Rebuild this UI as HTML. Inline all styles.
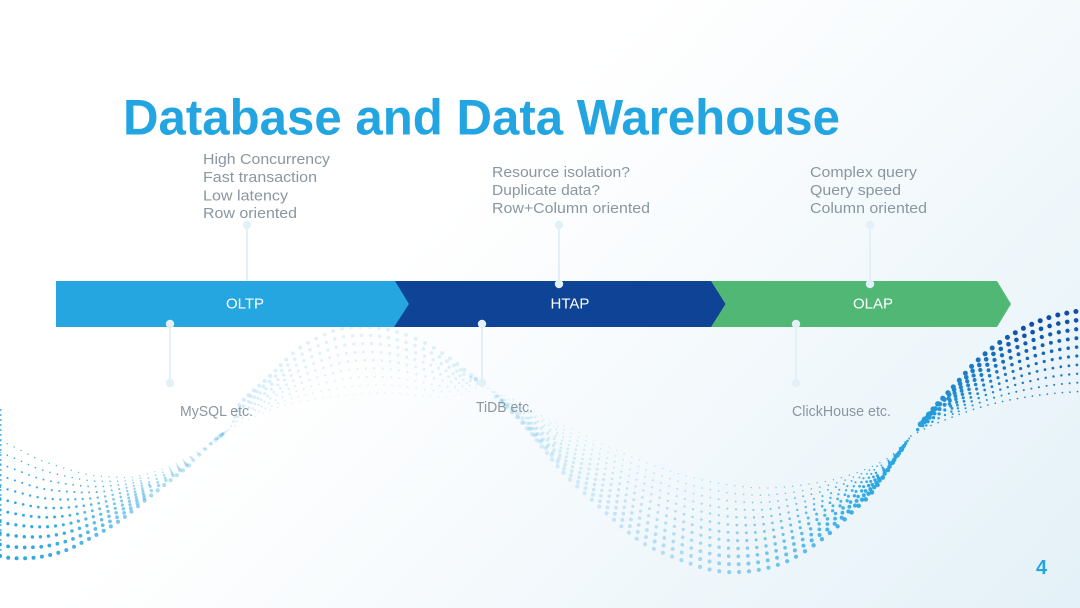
<!DOCTYPE html>
<html><head><meta charset="utf-8"><style>
html,body{margin:0;padding:0;width:1080px;height:608px;overflow:hidden;background:#fff}
svg{display:block;position:absolute;left:0;top:0}
text{font-family:"Liberation Sans",sans-serif}
.t{font-size:15px;fill:#8a96a1}
.b{font-size:15px;fill:#fff;text-anchor:middle}
</style></head><body>
<svg id="s" width="1080" height="608" viewBox="0 0 1080 608" xmlns="http://www.w3.org/2000/svg">
<defs><linearGradient id="bg" gradientUnits="userSpaceOnUse" x1="480" y1="170" x2="1000" y2="680"><stop offset="0" stop-color="#fff"/><stop offset="1" stop-color="#e4f1f8"/></linearGradient></defs>
<rect width="1080" height="608" fill="url(#bg)"/>
<g id="dots"></g>
<g stroke="#e3f0f8" stroke-width="2" fill="#e3f0f8">
<line x1="247" y1="225" x2="247" y2="283"/><circle cx="247" cy="225" r="4.2" stroke="none"/>
<line x1="559" y1="225" x2="559" y2="283"/><circle cx="559" cy="225" r="4.2" stroke="none"/>
<line x1="870" y1="225" x2="870" y2="283"/><circle cx="870" cy="225" r="4.2" stroke="none"/>
<line x1="170" y1="325" x2="170" y2="383"/><circle cx="170" cy="383" r="4.2" stroke="none"/>
<line x1="482" y1="325" x2="482" y2="383"/><circle cx="482" cy="383" r="4.2" stroke="none"/>
<line x1="796" y1="325" x2="796" y2="383"/><circle cx="796" cy="383" r="4.2" stroke="none"/>
</g>
<polygon points="700,281 997,281 1011,304 997,327 700,327" fill="#50b874"/>
<polygon points="380,281 711,281 725.500,304 711,327 380,327" fill="#0f4396"/>
<polygon points="56,281 395,281 409,304 394,327 56,327" fill="#25a6e1"/>
<g fill="#e3f0f8"><circle cx="559" cy="284" r="4.2"/><circle cx="870" cy="284" r="4.2"/><circle cx="170" cy="324" r="4.2"/><circle cx="482" cy="324" r="4.2"/><circle cx="796" cy="324" r="4.2"/></g>
<text x="123" y="134.500" font-size="50" font-weight="700" fill="#23a5e2" textLength="717" lengthAdjust="spacingAndGlyphs">Database and Data Warehouse</text>
<text class="t" x="203" y="164" textLength="127" lengthAdjust="spacingAndGlyphs">High Concurrency</text>
<text class="t" x="203" y="182" textLength="114" lengthAdjust="spacingAndGlyphs">Fast transaction</text>
<text class="t" x="203" y="200.500" textLength="85" lengthAdjust="spacingAndGlyphs">Low latency</text>
<text class="t" x="203" y="218" textLength="94" lengthAdjust="spacingAndGlyphs">Row oriented</text>
<text class="t" x="492" y="177" textLength="138" lengthAdjust="spacingAndGlyphs">Resource isolation?</text>
<text class="t" x="492" y="195" textLength="108" lengthAdjust="spacingAndGlyphs">Duplicate data?</text>
<text class="t" x="492" y="213" textLength="158" lengthAdjust="spacingAndGlyphs">Row+Column oriented</text>
<text class="t" x="810" y="177" textLength="107" lengthAdjust="spacingAndGlyphs">Complex query</text>
<text class="t" x="810" y="195" textLength="91" lengthAdjust="spacingAndGlyphs">Query speed</text>
<text class="t" x="810" y="213" textLength="117" lengthAdjust="spacingAndGlyphs">Column oriented</text>
<text class="t" x="180" y="416" textLength="73" lengthAdjust="spacingAndGlyphs">MySQL etc.</text>
<text class="t" x="476" y="412" textLength="57" lengthAdjust="spacingAndGlyphs">TiDB etc.</text>
<text class="t" x="792" y="416" textLength="99" lengthAdjust="spacingAndGlyphs">ClickHouse etc.</text>
<text class="b" x="245" y="308.500">OLTP</text>
<text class="b" x="570" y="308.500">HTAP</text>
<text class="b" x="873" y="308.500">OLAP</text>
<text x="1036" y="574" font-size="20" font-weight="700" fill="#23a5e2">4</text>
</svg>
<script>
(function(){
function curve(p){
  var d=[];
  for(var i=0;i<p.length-1;i++){
    var a=p[Math.max(i-1,0)],b=p[i],c=p[i+1],e=p[Math.min(i+2,p.length-1)];
    for(var k=0;k<12;k++){var t=k/12,t2=t*t,t3=t2*t;
      d.push([.5*(2*b[0]+(c[0]-a[0])*t+(2*a[0]-5*b[0]+4*c[0]-e[0])*t2+(3*b[0]-a[0]-3*c[0]+e[0])*t3),
              .5*(2*b[1]+(c[1]-a[1])*t+(2*a[1]-5*b[1]+4*c[1]-e[1])*t2+(3*b[1]-a[1]-3*c[1]+e[1])*t3)]);}
  }
  d.push(p[p.length-1]);
  var L=[0];for(i=1;i<d.length;i++)L[i]=L[i-1]+Math.hypot(d[i][0]-d[i-1][0],d[i][1]-d[i-1][1]);
  var T=L[L.length-1];
  return function(s){s=Math.max(0,Math.min(1,s));var q=T*s,j=0;while(j<d.length-2&&L[j+1]<q)j++;
    var f=(q-L[j])/((L[j+1]-L[j])||1);return [d[j][0]+(d[j+1][0]-d[j][0])*f,d[j][1]+(d[j+1][1]-d[j][1])*f];};
}
function alpha(x){var k=[[0,1],[60,.92],[100,.75],[130,.55],[180,.3],[220,.2],[345,.14],[480,.14],[600,.2],[700,.38],[800,.72],[880,1],[1080,1]];
  for(var i=0;i<k.length-1;i++)if(x<=k[i+1][0]){var f=Math.max(0,(x-k[i][0])/(k[i+1][0]-k[i][0]));return k[i][1]+(k[i+1][1]-k[i][1])*f;}return 1;}
function col(x,u){var t=Math.max(0,Math.min(1,(x-915)/110))*(.35+.65*u);
  var a=[43,166,226],b=[14,78,166];
  return 'rgb('+a.map(function(v,i){return Math.round(v+(b[i]-v)*t)}).join(',')+')';}
var out=[];
function lobe(A,B,n,rows,ra,rb,ws,we,d){
  var fa=curve(A),fb=curve(B);
  for(var i=0;i<=n;i++){
    for(var r=0;r<rows;r++){
      var s0=i/n,p=0;
      if(ws>0&&s0<ws)p=Math.max(p,1-s0/ws);
      if(we>0&&s0>1-we)p=Math.max(p,(s0-(1-we))/we);
      /* stagger rows progressively toward the pinch so columns do not form streaks */
      var ph=((r*.618)%1)*p/n*1.6;
      var s=Math.min(1,s0+ph),D=0;
      if(ws>0&&s<ws)D+=d*Math.pow(1-s/ws,2);
      if(we>0&&s>1-we)D-=d*Math.pow((s-(1-we))/we,2);
      var a=fa(s),b=fb(s+D);
      var u=r/(rows-1),x=a[0]+(b[0]-a[0])*u,y=a[1]+(b[1]-a[1])*u;
      if(x<-3||x>1083)continue;
      /* thin out rows where the band is squeezed */
      var th=Math.hypot(b[0]-a[0],b[1]-a[1]);
      if(th<22&&r%2==1&&r<rows-1)continue;
      if(th<10&&r%4==2)continue;
      var R=(ra+(rb-ra)*u)*(1+.18*p*u);
      out.push('<circle cx="'+x.toFixed(1)+'" cy="'+y.toFixed(1)+'" r="'+R.toFixed(2)+'" fill="'+col(x,u)+'" fill-opacity="'+alpha(x).toFixed(2)+'"/>');
    }
  }
}
lobe([[0,441],[10,445],[20,450],[40,460],[67,469],[90,475],[113,477],[133,477],[157,471],[177,463],[200,450],[228,430]],
     [[0,556],[10,558],[30,558],[50,555],[69,549],[87,540],[105,530],[122,519],[137,507],[153,494],[177,475],[193,462],[213,442],[228,430]],32,11,.65,2,0,.42,.04);
lobe([[228,430],[241,423],[276,408],[310,400],[350,395],[390,393],[448,397],[483,385]],
     [[228,430],[241,403],[269,377],[297,350],[324,335],[345,328],[379,328],[414,338],[445,355],[483,385]],34,9,.7,1.9,.3,.3,.03);
lobe([[483,385],[510,398],[540,415],[574,430],[609,447],[661,468],[712,482],[764,488],[816,483],[850,475],[885,460],[905,442],[911,436]],
     [[483,385],[520,420],[561,470],[590,498],[612,518],[643,543],[681,560],[712,570],[740,572],[771,567],[799,555],[831,532],[854,510],[868,497],[881,480],[899,453],[911,436]],56,12,.65,2.1,.22,.3,.03);
lobe([[911,436],[937,423],[988,405],[1040,395],[1085,391]],
     [[911,436],[935,407],[955,385],[976,362],[999,343],[1026,327],[1054,316],[1085,310]],24,10,.85,2.5,.3,0,.04);
for(var y=410;y<=556;y+=5)out.push('<circle cx="0.8" cy="'+y+'" r="0.9" fill="#2ba6e2"/>');
document.getElementById('dots').innerHTML=out.join('');
})();
</script>
</body></html>
